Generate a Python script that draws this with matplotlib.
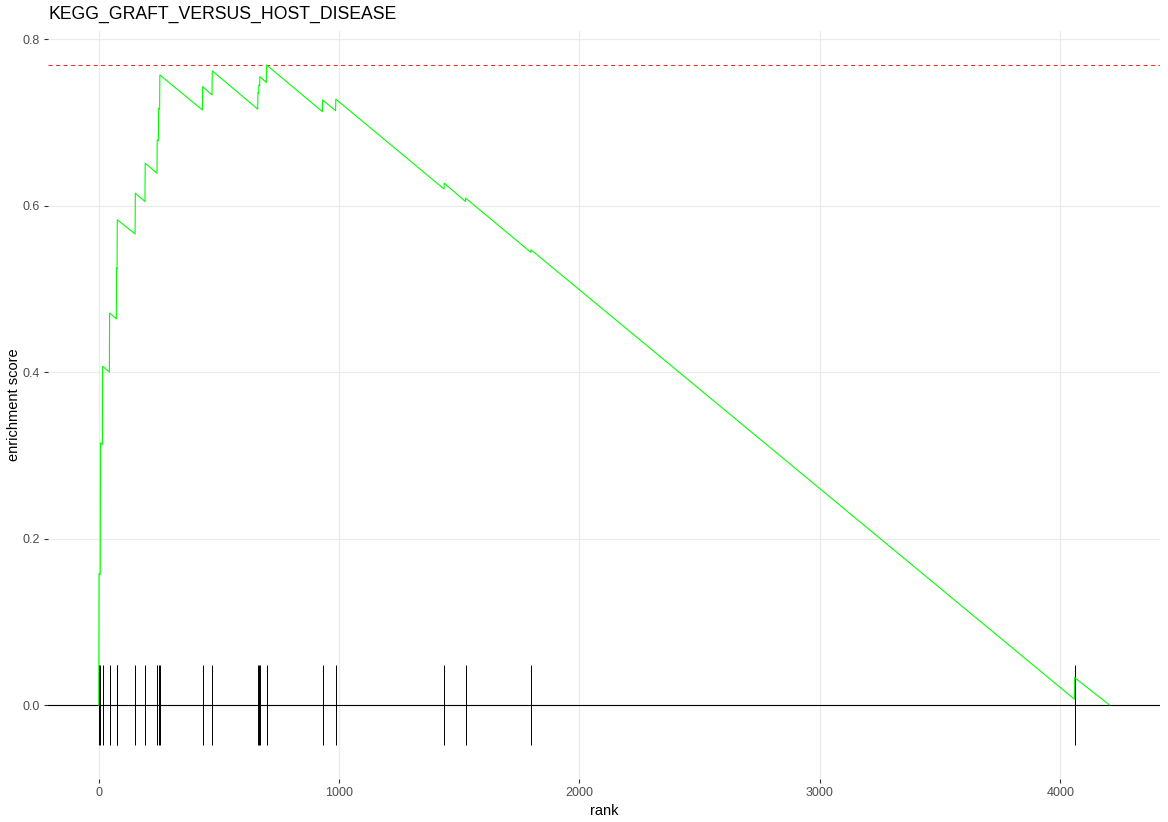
import matplotlib
matplotlib.use('Agg')
import matplotlib.pyplot as plt
import numpy as np

plt.rcParams['font.family'] = ['Liberation Sans', 'DejaVu Sans']

title = 'KEGG_GRAFT_VERSUS_HOST_DISEASE'
n_genes = 4205

# hit positions in the ranked list and running ES just before / after each hit
hit_ranks = [2, 8, 17, 46, 75, 78, 153, 194, 244, 250, 255, 433, 473,
             663, 667, 671, 699, 932, 987, 1438, 1527, 1799, 4060]
es_before = [0.000, 0.157, 0.313, 0.400, 0.464, 0.524, 0.566, 0.605, 0.639,
             0.678, 0.716, 0.715, 0.733, 0.716, 0.735, 0.744, 0.748, 0.713,
             0.714, 0.620, 0.605, 0.544, 0.007]
es_after = [0.158, 0.315, 0.407, 0.471, 0.525, 0.583, 0.615, 0.651, 0.679,
            0.717, 0.757, 0.743, 0.762, 0.736, 0.745, 0.755, 0.769, 0.727,
            0.728, 0.627, 0.609, 0.547, 0.033]

x_ticks = [0, 1000, 2000, 3000, 4000]
y_ticks = [0.0, 0.2, 0.4, 0.6, 0.8]

# build the step curve
xs = [0]
ys = [0.0]
for r, b, a in zip(hit_ranks, es_before, es_after):
    xs += [r - 1, r]
    ys += [b, a]
xs.append(n_genes)
ys.append(0.0)

top = max(es_after)
tick_half = (top - 0) / 8 / 2

fig = plt.figure(figsize=(11.68, 8.22), dpi=100)
ax = fig.add_axes([0.0411, 0.0523, 0.9521, 0.91])

ax.plot(xs, ys, color='#00FF00', lw=0.8, zorder=3)
ax.axhline(top, color='red', lw=0.6, linestyle=(0, (5, 4)), zorder=2)
ax.axhline(0, color='black', lw=0.8, zorder=2)
ax.vlines(hit_ranks, -tick_half, tick_half, color='black', lw=0.7, zorder=2)

xlo, xhi = 0, n_genes
pad = (xhi - xlo) * 0.05
ax.set_xlim(xlo - pad, xhi + pad)
ylo, yhi = -tick_half, top
pad = (yhi - ylo) * 0.05
ax.set_ylim(ylo - pad, yhi + pad)

ax.set_xticks(x_ticks)
ax.set_yticks(y_ticks)
ax.set_yticklabels(['%.1f' % v for v in y_ticks])
ax.grid(True, color='#EBEBEB', lw=0.9, zorder=0)
ax.set_axisbelow(True)
for s in ax.spines.values():
    s.set_visible(False)
ax.tick_params(axis='both', length=3, width=0.8, color='#333333',
               labelcolor='#4D4D4D', labelsize=9, pad=3)

ax.set_xlabel('rank', fontsize=10.5, color='black', labelpad=3)
ax.set_ylabel('enrichment score', fontsize=10.5, color='black', labelpad=1)
fig.text(48 / 1168, 1 - 14 / 822, title, fontsize=12.7, ha='left', va='center')

fig.savefig('out.png', dpi=100)
